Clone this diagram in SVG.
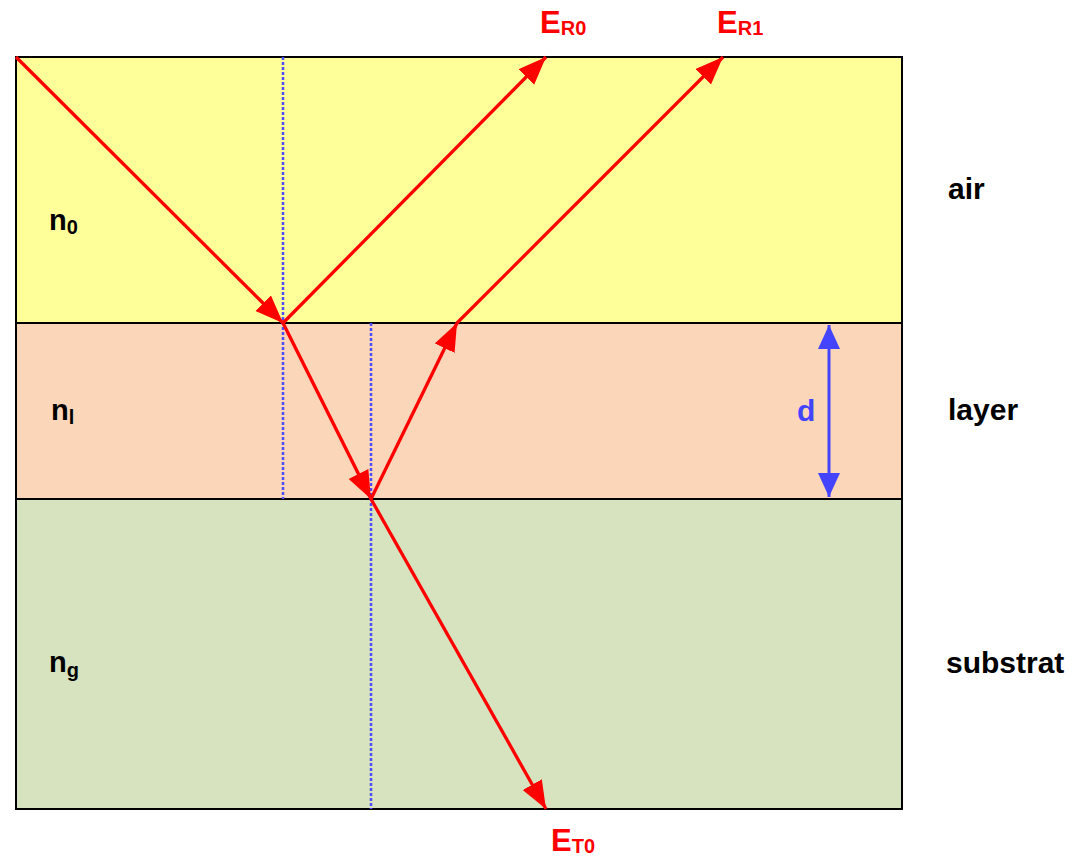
<svg xmlns="http://www.w3.org/2000/svg" width="1086" height="859" viewBox="0 0 1086 859">
<style>
.lbl{font-family:"Liberation Sans",Arial,sans-serif;font-weight:bold;font-size:30px;fill:#000}
.n{font-family:"Liberation Sans",Arial,sans-serif;font-weight:bold;font-size:29px;fill:#000}
.e{font-family:"Liberation Sans",Arial,sans-serif;font-weight:bold;font-size:31px;fill:#ff0000}
.sub{font-size:20px}
.ray{stroke:#ff0000;stroke-width:3.3;fill:none}
.norm{stroke:#4d4dff;stroke-width:2.5;stroke-dasharray:3 2;fill:none}
.bd{stroke:#000;stroke-width:2}
</style>
<defs>
<marker id="ah" markerUnits="userSpaceOnUse" markerWidth="30" markerHeight="24" refX="28" refY="11" orient="auto">
<path d="M0,0 L28,11 L0,22 Z" fill="#ff0000"/>
</marker>
<marker id="bh" markerUnits="userSpaceOnUse" markerWidth="26" markerHeight="24" refX="24" refY="11" orient="auto-start-reverse">
<path d="M0,0 L24,11 L0,22 Z" fill="#4444ff"/>
</marker>
</defs>
<g id="air">
<rect x="16" y="57" width="886" height="266" fill="#ffff99" class="bd"/>
<text x="948" y="199" class="lbl">air</text>
<text x="49" y="230" class="n">n<tspan class="sub" dy="4">0</tspan></text>
</g>
<g id="layer">
<rect x="16" y="323" width="886" height="176" fill="#fbd6b8" class="bd"/>
<text x="948" y="420" class="lbl">layer</text>
<text x="51" y="420" class="n">n<tspan class="sub" dy="4">l</tspan></text>
</g>
<g id="substrat">
<rect x="16" y="499" width="886" height="310" fill="#d7e3bf" class="bd"/>
<text x="946" y="673" class="lbl">substrat</text>
<text x="49" y="672" class="n">n<tspan class="sub" dy="5">g</tspan></text>
</g>
<g id="connectors">
<line x1="283" y1="57" x2="283" y2="499" class="norm"/>
<line x1="371" y1="323" x2="371" y2="809" class="norm"/>
<line x1="16" y1="57" x2="283" y2="323" class="ray" marker-end="url(#ah)"/>
<line x1="283" y1="323" x2="546" y2="57" class="ray" marker-end="url(#ah)"/>
<line x1="283" y1="323" x2="371" y2="499" class="ray" marker-end="url(#ah)"/>
<line x1="371" y1="499" x2="457" y2="323" class="ray" marker-end="url(#ah)"/>
<line x1="457" y1="323" x2="723" y2="57" class="ray" marker-end="url(#ah)"/>
<line x1="371" y1="499" x2="546" y2="809" class="ray" marker-end="url(#ah)"/>
<line x1="829" y1="325" x2="829" y2="497" stroke="#4444ff" stroke-width="3" marker-start="url(#bh)" marker-end="url(#bh)"/>
</g>
<g id="labels">
<text x="797" y="421" class="lbl" style="fill:#4444ff">d</text>
<text x="540" y="33" class="e">E<tspan class="sub" dy="2">R0</tspan></text>
<text x="717" y="33" class="e">E<tspan class="sub" dy="2">R1</tspan></text>
<text x="551" y="851" class="e">E<tspan class="sub" dy="2">T0</tspan></text>
</g>
</svg>
